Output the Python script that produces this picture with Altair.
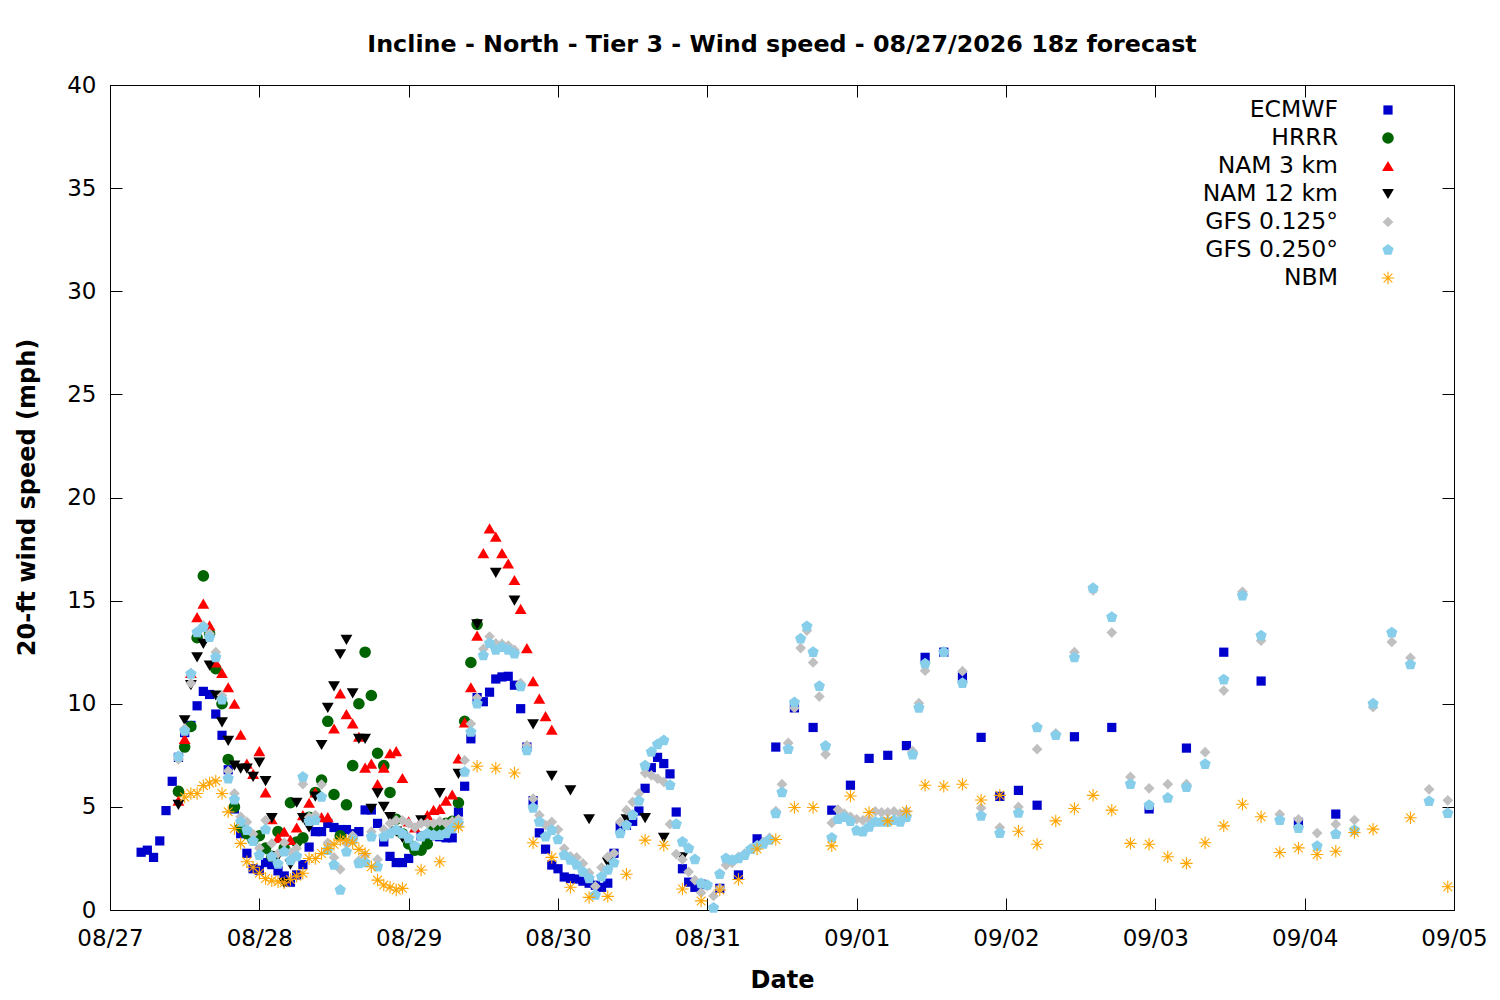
import altair as alt
import pandas as pd

# ---------------- text ----------------
TITLE = "Incline - North - Tier 3 - Wind speed - 08/27/2026 18z forecast"
X_TITLE = "Date"
Y_TITLE = "20-ft wind speed (mph)"
SERIES = ["ECMWF", "HRRR", "NAM 3 km", "NAM 12 km", "GFS 0.125°", "GFS 0.250°", "NBM"]
DAY_LABELS = ["08/27", "08/28", "08/29", "08/30", "08/31", "09/01", "09/02", "09/03", "09/04", "09/05"]
DAY_TICKS_H = [0, 24, 48, 72, 96, 120, 144, 168, 192, 216]   # hours since 08/27 00:00
Y_TICKS = [0, 5, 10, 15, 20, 25, 30, 35, 40]

# ---------------- data (hour since 08/27 00:00, wind speed mph) ----------------
ECMWF_H = list(range(5, 96)) + list(range(98, 150, 3)) + list(range(155, 198, 6))
ECMWF_V = [2.8, 2.9, 2.55, 3.35, 4.82, 6.24, 7.4, 8.6, 8.95, 9.9,
           10.6, 10.45, 9.5, 8.47, 6.8, 4.9, 3.7, 2.75, 2.0, 1.93,
           2.3, 2.2, 1.9, 1.65, 1.35, 1.7, 2.2, 3.05, 3.8, 3.8,
           4.2, 4.0, 3.9, 3.9, 3.7, 3.8, 4.85, 4.85, 4.2, 3.3,
           2.6, 2.3, 2.3, 2.5, 3.0, 3.6, 3.6, 3.6, 3.55, 3.5,
           3.5, 4.75, 6.0, 8.3, 10.3, 10.1, 10.56, 11.2, 11.3, 11.33,
           10.9, 9.76, 7.9, 5.3, 3.74, 2.95, 2.18, 2.0, 1.6, 1.53,
           1.5, 1.4, 1.3, 1.2, 1.1, 1.3, 2.75, 4.0, 4.1, 4.3,
           4.8, 5.9, 6.9, 7.4, 7.1, 6.6, 4.75, 2.0, 1.35, 1.1, 1.25,
           1.05, 1.7, 3.45, 7.9, 9.8, 8.85, 4.84, 6.05, 7.35, 7.5,
           7.97, 12.25, 12.5, 11.3, 8.37, 5.51, 5.8, 5.08,
           8.4, 8.85, 4.9, 7.85, 12.5, 11.1, 4.25, 4.65]

HRRR_H = list(range(11, 60))
HRRR_V = [5.75, 7.9, 8.9, 13.2, 16.2, 13.4, 11.7, 10.0, 7.3, 5.0,
          4.0, 3.7, 3.4, 3.6, 3.0, 2.6, 3.8, 3.0, 5.2, 3.3,
          3.5, 4.5, 5.7, 6.3, 9.15, 5.6, 3.6, 5.1, 7.0, 10.0,
          12.5, 10.4, 7.6, 7.0, 5.7, 4.4, 3.7, 3.2, 2.9, 2.9,
          3.2, 3.9, 4.1, 4.2, 4.3, 5.2, 9.15, 12.0, 13.85]

NAM3_H = list(range(11, 72))
NAM3_V = [5.3, 8.3, 11.5, 14.2, 14.85, 13.8, 12.0, 11.5, 10.8, 10.0,
          8.5, 7.1, 6.6, 7.7, 5.7, 4.4, 3.5, 3.8, 3.4, 4.0,
          4.6, 5.2, 5.7, 4.5, 4.5, 8.8, 10.5, 9.5, 9.05, 8.4,
          6.9, 7.1, 6.1, 6.9, 7.6, 7.7, 6.4, 4.3, 4.0, 4.35,
          4.6, 4.85, 4.9, 5.3, 5.6, 7.35, 9.1, 10.8, 13.3, 17.3,
          18.5, 18.1, 17.3, 16.8, 16.0, 14.6, 12.7, 11.1, 10.25, 9.4, 8.75]

NAM12_H = list(range(11, 48)) + list(range(50, 96, 3))
NAM12_V = [5.1, 9.2, 10.9, 12.25, 12.9, 11.85, 10.4, 9.1, 8.2, 7.0,
           6.85, 6.85, 6.45, 7.15, 6.25, 4.45, 2.6, 1.3, 2.2, 5.2,
           4.45, 4.0, 5.5, 8.0, 9.8, 10.84, 12.4, 13.1, 10.5, 8.3,
           8.3, 4.9, 5.65, 5.0, 4.5, 3.8, 3.5,
           4.35, 5.67, 6.6, 13.85, 16.35, 15.0, 9.0, 6.5, 5.8, 4.4,
           2.3, 4.4, 4.45, 3.5, 2.55, 1.2]

GFS_H = list(range(11, 132)) + list(range(134, 216, 3))
GFS125_V = [7.3, 8.8, 11.0, 13.5, 13.8, 13.4, 12.5, 10.4, 6.74, 5.65,
            4.52, 4.27, 3.68, 3.0, 4.35, 3.23, 2.74, 3.26, 2.8, 3.0,
            6.1, 4.5, 4.6, 6.08, 3.26, 2.55, 1.97, 3.23, 3.6, 2.4,
            2.66, 3.8, 2.45, 3.9, 4.2, 4.35, 4.35, 4.2, 4.0, 4.2,
            4.2, 4.2, 4.3, 4.2, 4.3, 4.4, 7.26, 9.03, 10.29, 12.66,
            13.26, 12.93, 12.9, 12.82, 12.61, 11.0, 7.98, 5.4, 4.6, 4.11,
            4.27, 3.9, 2.98, 2.6, 2.55, 2.26, 1.8, 1.15, 2.06, 2.58,
            2.75, 4.27, 4.84, 5.24, 5.65, 6.64, 6.53, 6.37, 6.21, 4.16,
            2.71, 2.45, 1.85, 1.45, 0.84, 1.16, 0.68, 1.05, 2.18, 2.29,
            2.58, 2.74, 2.98, 3.14, 3.3, 3.5, 4.8, 6.1, 8.1, 9.8,
            12.7, 13.55, 12.0, 10.35, 7.55, 4.22, 4.87, 4.67, 4.52, 4.4,
            4.35, 4.4, 4.78, 4.73, 4.73, 4.78, 4.67, 4.78, 7.7, 10.03, 11.6,
            12.5, 11.58, 4.94, 4.0, 5.0, 7.8, 8.57, 12.5, 15.5, 13.45,
            6.45, 5.9, 6.1, 6.1, 7.65, 10.64, 15.43, 13.06, 4.64, 4.4,
            3.73, 4.16, 4.36, 9.83, 13.0, 12.23, 5.85, 5.32]
GFS250_V = [7.45, 8.68, 11.45, 13.46, 13.7, 13.22, 12.25, 10.19, 6.37, 5.35,
            4.27, 3.87, 3.34, 2.66, 3.9, 2.58, 2.23, 2.82, 2.4, 2.6,
            6.45, 4.3, 4.35, 5.48, 2.9, 2.18, 0.97, 2.82, 3.4, 2.26,
            2.3, 3.55, 2.1, 3.55, 3.7, 3.87, 3.7, 3.47, 3.1, 3.55,
            3.7, 3.63, 3.63, 3.71, 3.95, 4.2, 6.69, 8.63, 10.0, 12.34,
            12.93, 12.61, 12.74, 12.61, 12.42, 10.84, 7.74, 4.95, 4.27, 3.55,
            3.87, 3.42, 2.66, 2.42, 2.18, 1.85, 1.53, 0.73, 1.61, 1.94,
            2.29, 3.71, 4.11, 4.6, 5.29, 7.0, 7.66, 8.03, 8.22, 6.05,
            4.16, 3.3, 2.98, 2.45, 1.29, 1.21, 0.1, 1.74, 2.5, 2.42,
            2.5, 2.66, 2.95, 3.1, 3.2, 3.4, 4.68, 5.7, 7.8, 10.06,
            13.15, 13.75, 12.5, 10.85, 7.95, 3.5, 4.4, 4.5, 4.3, 3.85,
            3.8, 4.03, 4.27, 4.27, 4.27, 4.35, 4.27, 4.5, 7.53, 9.8, 11.94,
            12.5, 11.0, 4.56, 3.72, 4.7, 8.85, 8.47, 12.24, 15.6, 14.2,
            6.1, 5.08, 5.43, 5.95, 7.07, 11.17, 15.24, 13.3, 4.35, 3.97,
            3.1, 3.68, 3.87, 10.0, 13.45, 11.9, 5.27, 4.69]

NBM_H = list(range(12, 48)) + list(range(50, 204, 3)) + [209, 215]
NBM_V = [5.48, 5.65, 5.65, 6.03, 6.16, 6.26, 5.65, 4.76, 3.95, 3.23,
         2.34, 2.07, 1.78, 1.53, 1.42, 1.37, 1.32, 1.48, 1.64, 1.78,
         2.5, 2.5, 2.74, 2.98, 3.19, 3.39, 3.39, 3.26, 2.94, 2.74,
         2.1, 1.45, 1.21, 1.1, 0.97, 1.05,
         1.94, 2.34, 4.03, 6.97, 6.87, 6.64, 3.26, 2.55, 1.1, 0.61,
         0.66, 1.73, 3.39, 3.14, 1.02, 0.44, 0.97, 1.48, 2.96, 3.42,
         4.97, 4.97, 3.11, 5.53, 4.73, 4.32, 4.79, 6.05, 6.0, 6.1,
         5.33, 5.56, 3.82, 3.19, 4.32, 4.92, 5.56, 4.84, 3.23, 3.19,
         2.58, 2.26, 3.26, 4.08, 5.13, 4.52, 2.79, 3.01, 2.69, 2.85,
         3.76, 3.92,
         4.47, 1.13]

# ---------------- style ----------------
FONT = "DejaVu Sans"
COLORS = ["#0000cd", "#006400", "#ff0000", "#000000", "#c0c0c0", "#87ceeb", "#ffa500"]
PENTAGON = "M0,-1L0.951,-0.309L0.588,0.809L-0.588,0.809L-0.951,-0.309Z"
ASTERISK = "M-1,0L1,0M0,-1L0,1M-0.7,-0.7L0.7,0.7M-0.7,0.7L0.7,-0.7"
SHAPES = ["square", "circle", "triangle-up", "triangle-down", "diamond", PENTAGON, ASTERISK]
SIZES = [85, 135, 140, 140, 115, 140, 155]
STROKES = [0, 0, 0, 0, 0, 0, 1.1]
LEGEND_TEXT_X = 1228      # right edge of legend labels (plot px)
LEGEND_SYMBOL_X = 1278    # legend symbol centres (plot px)
LEGEND_ROWS = [25, 193]   # first/last legend row (plot px)

series_data = [
    (SERIES[0], ECMWF_H, ECMWF_V),
    (SERIES[1], HRRR_H, HRRR_V),
    (SERIES[2], NAM3_H, NAM3_V),
    (SERIES[3], NAM12_H, NAM12_V),
    (SERIES[4], GFS_H, GFS125_V),
    (SERIES[5], GFS_H, GFS250_V),
    (SERIES[6], NBM_H, NBM_V),
]
rows = []
for name, hs, vs in series_data:
    assert len(hs) == len(vs), (name, len(hs), len(vs))
    for h, v in zip(hs, vs):
        rows.append({"model": name, "hour": h, "speed": v})
df = pd.DataFrame(rows)
legend_df = pd.DataFrame({"model": SERIES})

label_expr = "[" + ",".join("'%s'" % d for d in DAY_LABELS) + "][round(datum.value / 24)]"

x_scale = alt.Scale(domain=[0, 216], nice=False, zero=False)
y_scale = alt.Scale(domain=[0, 40], nice=False, zero=True)

fill_enc = alt.Fill("model:N", scale=alt.Scale(domain=SERIES, range=COLORS), legend=None)
stroke_enc = alt.Stroke("model:N", scale=alt.Scale(domain=SERIES, range=COLORS), legend=None)
shape_enc = alt.Shape("model:N", scale=alt.Scale(domain=SERIES, range=SHAPES), legend=None)
size_enc = alt.Size("model:N", scale=alt.Scale(type="ordinal", domain=SERIES, range=SIZES), legend=None)
sw_enc = alt.StrokeWidth("model:N", scale=alt.Scale(type="ordinal", domain=SERIES, range=STROKES), legend=None)

points = alt.Chart(df).mark_point(filled=True, opacity=1).encode(
    x=alt.X("hour:Q", scale=x_scale,
            axis=alt.Axis(orient="bottom", values=DAY_TICKS_H, labelExpr=label_expr,
                          title=X_TITLE, offset=-12, tickSize=12, domain=False, grid=False,
                          labelPadding=17, labelFlush=False, labelOverlap=False,
                          labelFont=FONT, labelFontSize=23, labelColor="black",
                          tickColor="black", titleFont=FONT, titleFontSize=24,
                          titleFontWeight="bold", titleColor="black",
                          titleBaseline="alphabetic", titleY=89)),
    y=alt.Y("speed:Q", scale=y_scale,
            axis=alt.Axis(orient="left", values=Y_TICKS, format="d",
                          title=Y_TITLE, offset=-12, tickSize=12, domain=False, grid=False,
                          labelPadding=14, labelFlush=False, labelOverlap=False,
                          labelFont=FONT, labelFontSize=23, labelColor="black",
                          tickColor="black", titleFont=FONT, titleFontSize=24,
                          titleFontWeight="bold", titleColor="black",
                          titleAngle=270, titleBaseline="bottom", titleX=-83, titleY=412)),
    fill=fill_enc, stroke=stroke_enc, shape=shape_enc, size=size_enc, strokeWidth=sw_enc,
)

mirror = alt.Chart(df.head(1)).mark_point(opacity=0).encode(
    x=alt.X("hour:Q", scale=x_scale,
            axis=alt.Axis(orient="top", values=DAY_TICKS_H, labels=False, title="",
                          offset=-12, tickSize=12, domain=False, grid=False, tickColor="black")),
    y=alt.Y("speed:Q", scale=y_scale,
            axis=alt.Axis(orient="right", values=Y_TICKS, labels=False, title="",
                          offset=-12, tickSize=12, domain=False, grid=False, tickColor="black")),
)

legend_y = alt.Y("model:N", scale=alt.Scale(type="point", domain=SERIES, range=LEGEND_ROWS, padding=0),
                 axis=None)
legend_text = alt.Chart(legend_df).mark_text(
    align="right", baseline="middle", font=FONT, fontSize=23.5, color="black"
).encode(x=alt.value(LEGEND_TEXT_X), y=legend_y, text="model:N")
legend_symbols = alt.Chart(legend_df).mark_point(filled=True, opacity=1).encode(
    x=alt.value(LEGEND_SYMBOL_X), y=legend_y,
    fill=fill_enc, stroke=stroke_enc, shape=shape_enc, size=size_enc, strokeWidth=sw_enc,
)

chart = alt.layer(points, mirror, legend_text, legend_symbols).resolve_scale(
    x="independent", y="independent"
).properties(
    width=1344, height=825,
    autosize=alt.AutoSizeParams(type="none"),
    padding={"left": 102, "top": 77, "right": 38, "bottom": 82},
    background="white",
    title=alt.Title(TITLE, font=FONT, fontSize=23.8, fontWeight="bold", color="black",
                    anchor="middle", baseline="alphabetic", offset=4, dy=6),
).configure_view(stroke="black", strokeWidth=1)

chart.save("out.html", embed_options={"renderer": "svg", "actions": False})
